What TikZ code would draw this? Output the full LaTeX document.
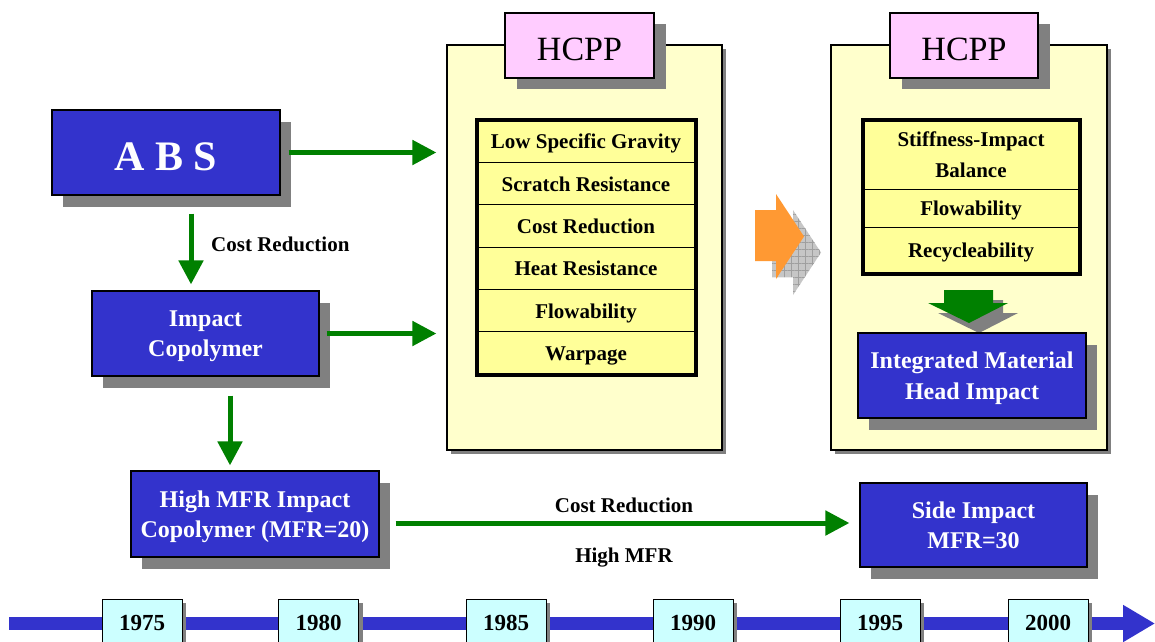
\documentclass[tikz,border=0pt]{standalone}
\usepackage{fontspec}
\setmainfont{Liberation Serif}
\usetikzlibrary{arrows.meta,shadows,patterns.meta}
\definecolor{boxblue}{HTML}{3333CC}
\definecolor{panelyellow}{HTML}{FFFFCC}
\definecolor{rowyellow}{HTML}{FFFF99}
\definecolor{tabpink}{HTML}{FFCCFF}
\definecolor{yearcyan}{HTML}{CCFFFF}
\definecolor{arrgreen}{HTML}{008000}
\definecolor{arrorange}{HTML}{FF9933}
\definecolor{shadowgray}{HTML}{808080}
\tikzset{
  bluebox/.style={draw=black, line width=1.2pt, fill=boxblue, text=white,
    font=\fontsize{24}{30.5}\selectfont\bfseries, align=center, inner sep=0pt,
    text depth=-3pt,
    drop shadow={shadow xshift=11pt, shadow yshift=-12pt, fill=shadowgray, opacity=1}},
  panel/.style={draw=black, line width=1.2pt, fill=panelyellow, inner sep=0pt,
    minimum height=405pt,
    drop shadow={shadow xshift=4pt, shadow yshift=-4pt, fill=shadowgray, opacity=1}},
  tab/.style={draw=black, line width=1.2pt, fill=tabpink, minimum height=65pt,
    inner sep=0pt, font=\fontsize{34}{34}\selectfont, text height=29pt, text depth=0pt,
    drop shadow={shadow xshift=12pt, shadow yshift=-11pt, fill=shadowgray, opacity=1}},
  rowbase/.style={draw=black, line width=1pt, fill=rowyellow, inner sep=0pt,
    font=\fontsize{21}{31}\selectfont\bfseries, align=center},
  rowbox/.style={rowbase, text height=15pt, text depth=0pt},
  listframe/.style={draw=black, line width=4pt},
  yearbox/.style={draw=black, line width=1pt, fill=yearcyan, minimum width=80pt,
    minimum height=49pt, inner sep=0pt, font=\fontsize{23}{23}\selectfont\bfseries,
    text height=15pt, text depth=2pt,
    drop shadow={shadow xshift=4pt, shadow yshift=-4pt, fill=shadowgray, opacity=1}},
  garrow/.style={draw=arrgreen, line width=5pt, -{Triangle[length=24pt,width=24pt]}},
  lbl/.style={font=\fontsize{21}{21}\selectfont\bfseries, inner sep=0pt},
  fatshadow/.style={fill=shadowgray},
}
\begin{document}
\begin{tikzpicture}[x=1pt,y=-1pt]
\useasboundingbox (0,0) rectangle (1155,641);
\clip (0,0) rectangle (1155,641);
\fill[white] (0,0) rectangle (1155,641);

% panels and tabs
\node[panel, minimum width=275pt] (panel1) at (584.5,247.5) {};
\node[panel, minimum width=276pt] (panel2) at (969,247.5) {};
\node[tab, minimum width=149pt] (tab1) at (579.5,45.5) {HCPP};
\node[tab, minimum width=148pt] (tab2) at (964,45.5) {HCPP};

% list 1
\node[rowbox, minimum width=218pt, minimum height=42.33pt] (r1) at (586,141.17) {Low Specific Gravity};
\node[rowbox, minimum width=218pt, minimum height=42.33pt] (r2) at (586,183.5) {Scratch Resistance};
\node[rowbox, minimum width=218pt, minimum height=42.33pt] (r3) at (586,225.83) {Cost Reduction};
\node[rowbox, minimum width=218pt, minimum height=42.33pt] (r4) at (586,268.17) {Heat Resistance};
\node[rowbox, minimum width=218pt, minimum height=42.33pt] (r5) at (586,310.5) {Flowability};
\node[rowbox, minimum width=218pt, minimum height=42.33pt] (r6) at (586,352.83) {Warpage};
\draw[listframe] (r1.north west) rectangle (r6.south east);

% list 2
\node[rowbase, minimum width=216pt, minimum height=69pt] (q1) at (971,154.5) {Stiffness-Impact\\Balance};
\node[rowbox, minimum width=216pt, minimum height=38pt] (q2) at (971,208) {Flowability};
\node[rowbox, minimum width=216pt, minimum height=46pt] (q3) at (971,250) {Recycleability};
\draw[listframe] (q1.north west) rectangle (q3.south east);

% fat green arrow in panel 2 (with shadow)
\fill[fatshadow, shift={(10,10)}] (944,290) -- (993,290) -- (993,303) -- (1008,303) -- (969,323) -- (928,303) -- (944,303) -- cycle;
\fill[arrgreen] (944,290) -- (993,290) -- (993,303) -- (1008,303) -- (969,323) -- (928,303) -- (944,303) -- cycle;

% orange arrow between panels (with hatched shadow)
\fill[gray!45, shift={(17,16)}] (755,210) -- (776,210) -- (776,194) -- (804,236.5) -- (776,279) -- (776,261) -- (755,261) -- cycle;
\fill[pattern={Lines[angle=0,distance=7pt,line width=0.6pt]}, pattern color=gray!75, shift={(17,16)}] (755,210) -- (776,210) -- (776,194) -- (804,236.5) -- (776,279) -- (776,261) -- (755,261) -- cycle;
\fill[pattern={Lines[angle=90,distance=7pt,line width=0.6pt]}, pattern color=gray!75, shift={(17,16)}] (755,210) -- (776,210) -- (776,194) -- (804,236.5) -- (776,279) -- (776,261) -- (755,261) -- cycle;
\fill[arrorange] (755,210) -- (776,210) -- (776,194) -- (804,236.5) -- (776,279) -- (776,261) -- (755,261) -- cycle;

% blue boxes
\node[bluebox, minimum width=228pt, minimum height=85pt,
  font=\fontsize{42}{42}\selectfont\bfseries, text height=35pt, text depth=0pt] (abs) at (166,152.5) {A B S};
\node[bluebox, minimum width=227pt, minimum height=85pt] (impact) at (205.5,333.5) {Impact\\Copolymer};
\node[bluebox, minimum width=248pt, minimum height=86pt] (hmfr) at (255,514) {High MFR Impact\\Copolymer (MFR=20)};
\node[bluebox, minimum width=227pt, minimum height=84pt] (side) at (973.5,525) {Side Impact\\MFR=30};
\node[bluebox, minimum width=228pt, minimum height=85pt] (integ) at (972,375.5) {Integrated Material\\Head Impact};

% green connectors
\draw[garrow] ([xshift=8pt]abs.east) -- ([xshift=-10pt]abs.east -| panel1.west);
\draw[garrow] ([xshift=7pt]impact.east) -- ([xshift=-10pt]impact.east -| panel1.west);
\draw[garrow] ([xshift=25pt,yshift=-18pt]abs.south) -- ([xshift=-14.5pt,yshift=6pt]impact.north);
\draw[garrow] ([xshift=24.5pt,yshift=-19pt]impact.south) -- ([xshift=-25pt,yshift=5pt]hmfr.north);
\draw[garrow] ([xshift=16pt,yshift=-9pt]hmfr.east) -- ([xshift=-10pt,yshift=2pt]side.west);

% labels
\node[lbl, anchor=west] (lcost1) at (211,244) {Cost Reduction};
\node[lbl] (lcost2) at (624,505) {Cost Reduction};
\node[lbl] (lhigh) at (624,558) {High MFR};

% timeline
\coordinate (tl0) at (9,623.5);
\coordinate (tl1) at (1155,623.5);
\draw[boxblue, line width=13pt, -{Triangle[length=32pt,width=35pt]}] (tl0) -- (tl1);
\node[yearbox] (y1975) at (142,623.5) {1975};
\node[yearbox] (y1980) at (318.5,623.5) {1980};
\node[yearbox] (y1985) at (506,623.5) {1985};
\node[yearbox] (y1990) at (693,623.5) {1990};
\node[yearbox] (y1995) at (880,623.5) {1995};
\node[yearbox] (y2000) at (1048,623.5) {2000};
\end{tikzpicture}
\end{document}
